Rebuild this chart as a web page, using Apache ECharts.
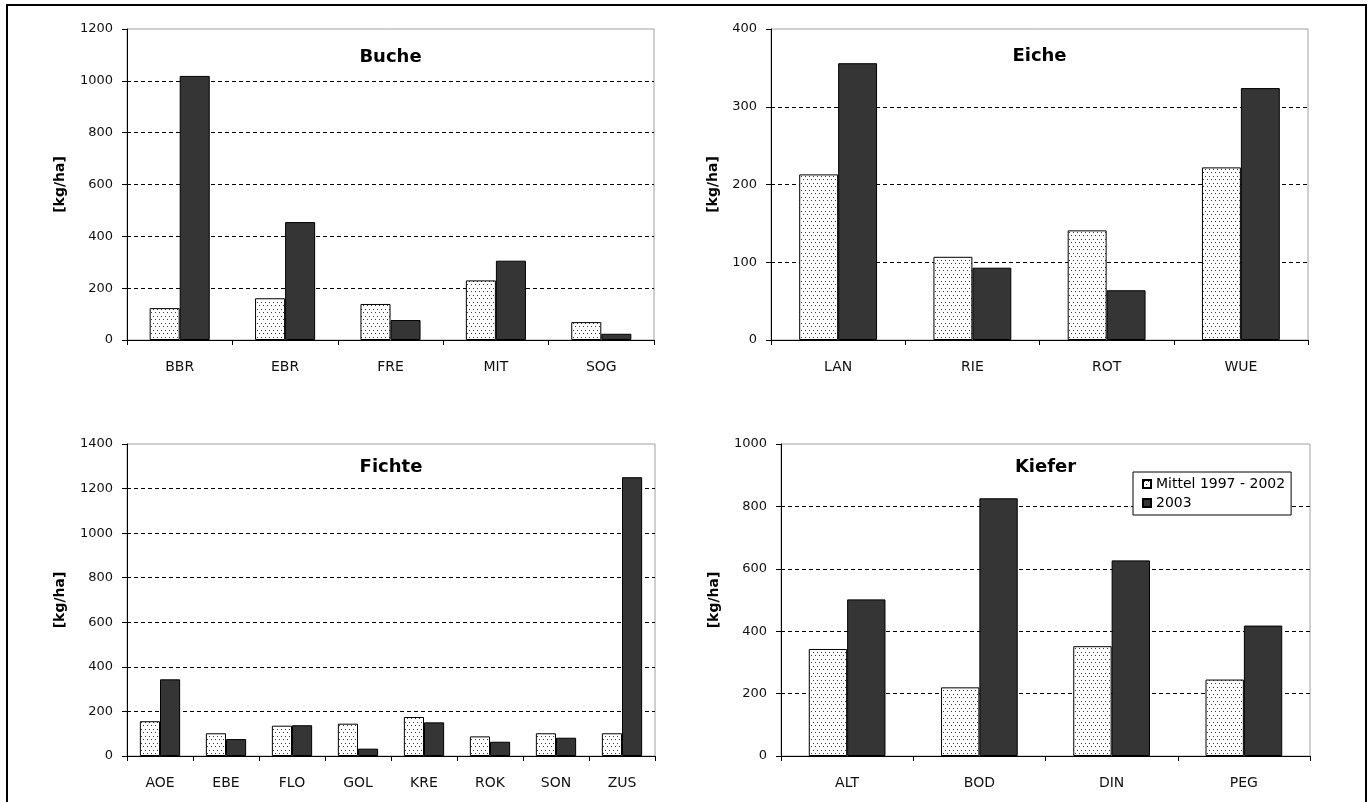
<!DOCTYPE html>
<html>
<head>
<meta charset="utf-8">
<script src="https://cdn.jsdelivr.net/npm/echarts@6/dist/echarts.min.js"></script>
<style>
html,body{margin:0;padding:0;background:#fff;}
#chart{width:1372px;height:802px;}
</style>
</head>
<body>
<div id="chart"></div>
<script>
// ---- data ----
const seriesNames = ['Mittel 1997 - 2002', '2003'];

const bucheCategories = ['BBR', 'EBR', 'FRE', 'MIT', 'SOG'];
const bucheMittel = [123, 161, 139, 230, 69];
const buche2003 = [1019, 455, 77, 306, 24];

const eicheCategories = ['LAN', 'RIE', 'ROT', 'WUE'];
const eicheMittel = [213, 107, 141, 222];
const eiche2003 = [356, 93, 64, 324];

const fichteCategories = ['AOE', 'EBE', 'FLO', 'GOL', 'KRE', 'ROK', 'SON', 'ZUS'];
const fichteMittel = [156, 102, 136, 145, 175, 88, 102, 102];
const fichte2003 = [344, 76, 138, 33, 151, 64, 82, 1251];

const kieferCategories = ['ALT', 'BOD', 'DIN', 'PEG'];
const kieferMittel = [343, 220, 352, 245];
const kiefer2003 = [502, 826, 627, 418];

const titles = ['Buche', 'Eiche', 'Fichte', 'Kiefer'];
const yMax = [1200, 400, 1400, 1000];
const yInterval = [200, 100, 200, 200];
const yName = '[kg/ha]';

// ---- layout ----
const panels = [
  {cats: bucheCategories, m: bucheMittel, d: buche2003, grid: {left: 127, top: 29, width: 527, height: 311}, gap: '43%', nameGap: 60, titleTop: 48},
  {cats: eicheCategories, m: eicheMittel, d: eiche2003, grid: {left: 771, top: 29, width: 537, height: 311}, gap: '42%', nameGap: 51, titleTop: 47},
  {cats: fichteCategories, m: fichteMittel, d: fichte2003, grid: {left: 127, top: 444, width: 528, height: 312}, gap: '39%', nameGap: 60, titleTop: 458},
  {cats: kieferCategories, m: kieferMittel, d: kiefer2003, grid: {left: 781, top: 444, width: 529, height: 312}, gap: '42%', nameGap: 60, titleTop: 458}
];

function makePattern() {
  const c = document.createElement('canvas');
  c.width = 8; c.height = 7;
  const g = c.getContext('2d');
  g.fillStyle = '#ffffff';
  g.fillRect(0, 0, 8, 7);
  g.fillStyle = '#3a3a3a';
  g.fillRect(1, 1, 1, 1);
  g.fillRect(5, 1, 1, 1);
  g.fillRect(3, 4, 1, 1);
  g.fillRect(7, 4, 1, 1);
  return c;
}
const dotted = {image: makePattern(), repeat: 'repeat'};
const FONT = 'DejaVu Sans';

const option = {
  animation: false,
  backgroundColor: '#fff',
  textStyle: {fontFamily: FONT},
  title: [],
  grid: [],
  xAxis: [],
  yAxis: [],
  series: [],
  legend: {
    data: seriesNames,
    orient: 'vertical',
    left: 1133,
    top: 472,
    itemWidth: 8,
    itemHeight: 8,
    itemGap: 5,
    padding: [5, 6, 5, 9],
    borderColor: '#000',
    borderWidth: 1,
    borderRadius: 0,
    backgroundColor: '#fff',
    selectedMode: false,
    icon: 'rect',
    textStyle: {fontFamily: FONT, fontSize: 14, color: '#000'}
  },
  graphic: [{
    type: 'rect',
    shape: {x: 7, y: 5, width: 1359, height: 810},
    style: {fill: 'none', stroke: '#000', lineWidth: 2},
    silent: true,
    z: 100
  }]
};

panels.forEach((p, i) => {
  option.grid.push(Object.assign({show: true, borderColor: '#a0a0a0', borderWidth: 1, backgroundColor: 'transparent', containLabel: false}, p.grid));
  option.title.push({
    text: titles[i],
    left: p.grid.left + p.grid.width / 2,
    top: p.titleTop,
    textAlign: 'center',
    padding: 0,
    textStyle: {fontFamily: FONT, fontSize: 18, fontWeight: 'bold', color: '#000'}
  });
  option.xAxis.push({
    type: 'category',
    gridIndex: i,
    data: p.cats,
    axisLine: {show: true, lineStyle: {color: '#000', width: 1}},
    axisTick: {show: true, inside: false, length: 5, alignWithLabel: false, lineStyle: {color: '#000'}},
    axisLabel: {margin: 20, fontSize: 14, color: '#111', fontFamily: FONT},
    splitLine: {show: false}
  });
  option.yAxis.push({
    type: 'value',
    gridIndex: i,
    min: 0,
    max: yMax[i],
    interval: yInterval[i],
    name: yName,
    nameLocation: 'middle',
    nameGap: p.nameGap,
    nameRotate: 90,
    nameTextStyle: {fontFamily: FONT, fontSize: 14, fontWeight: 'bold', color: '#000'},
    axisLine: {show: true, lineStyle: {color: '#000', width: 1}},
    axisTick: {show: true, inside: false, length: 5, lineStyle: {color: '#000'}},
    axisLabel: {margin: 14, fontSize: 13, color: '#111', fontFamily: FONT, formatter: v => String(v)},
    splitLine: {show: true, showMinLine: false, showMaxLine: false, lineStyle: {color: '#000', type: [4, 3], width: 1}}
  });
  option.series.push({
    name: seriesNames[0],
    type: 'bar',
    xAxisIndex: i,
    yAxisIndex: i,
    data: p.m,
    barGap: '0%',
    barCategoryGap: p.gap,
    itemStyle: {color: dotted, borderColor: '#000', borderWidth: 1},
    emphasis: {disabled: true}
  });
  option.series.push({
    name: seriesNames[1],
    type: 'bar',
    xAxisIndex: i,
    yAxisIndex: i,
    data: p.d,
    barGap: '0%',
    barCategoryGap: p.gap,
    itemStyle: {color: '#353535', borderColor: '#000', borderWidth: 1},
    emphasis: {disabled: true}
  });
});

const chart = echarts.init(document.getElementById('chart'), null, {renderer: 'canvas'});
chart.setOption(option);
</script>
</body>
</html>
